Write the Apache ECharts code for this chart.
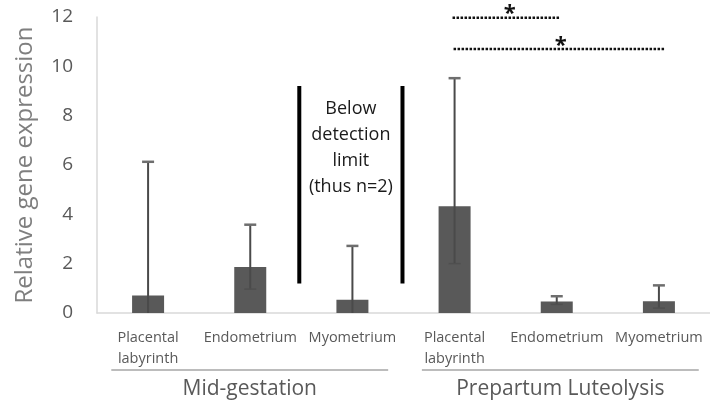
<!DOCTYPE html>
<html>
<head>
<meta charset="utf-8">
<script src="https://cdn.jsdelivr.net/npm/echarts@6/dist/echarts.min.js"></script>
<style>
  html, body { margin: 0; padding: 0; background: #fff; }
  #chart { width: 710px; height: 410px; }
</style>
</head>
<body>
<div id="chart"></div>
<script>
// tissues, in order: three mid-gestation then three prepartum
const categories = ['Placental\nlabyrinth', 'Endometrium', 'Myometrium',
                    'Placental\nlabyrinth', 'Endometrium', 'Myometrium'];
const means = [0.71, 1.86, 0.54, 4.33, 0.47, 0.48];
const errLow = [0, 0.97, 0, 2.0, 0.35, 0.2];
const errHigh = [6.13, 3.58, 2.72, 9.52, 0.68, 1.12];
const groups = ['Mid-gestation', 'Prepartum Luteolysis'];
const yTicks = [0, 12, 2]; // min, max, interval

const font = '"Open Sans", "Noto Sans", sans-serif';
const chart = echarts.init(document.getElementById('chart'));

const errData = means.map((m, i) => [i, errLow[i], errHigh[i]]);

chart.setOption({
    animation: false,
    textStyle: { fontFamily: font },
    grid: { left: 97, right: 0, top: 17, bottom: 97 },
    xAxis: {
        type: 'category',
        data: categories,
        axisLine: { lineStyle: { color: '#d9d9d9', width: 1.5 } },
        axisTick: { show: false },
        axisLabel: { color: '#595959', fontSize: 14.5, lineHeight: 21, margin: 14, interval: 0 }
    },
    yAxis: {
        type: 'value',
        min: yTicks[0],
        max: yTicks[1],
        interval: yTicks[2],
        name: 'Relative gene expression',
        nameLocation: 'middle',
        nameGap: 60,
        nameTextStyle: { color: '#7f7f7f', fontSize: 24 },
        axisLine: { show: true, lineStyle: { color: '#d9d9d9', width: 1.5 } },
        axisTick: { show: false },
        splitLine: { show: false },
        axisLabel: { color: '#595959', fontSize: 19, margin: 24 }
    },
    series: [
        {
            type: 'bar',
            data: means,
            barWidth: 32,
            itemStyle: { color: '#595959' }
        },
        {
            type: 'custom',
            data: errData,
            z: 3,
            renderItem: (params, api) => {
                const x = api.value(0);
                const lo = api.coord([x, api.value(1)]);
                const hi = api.coord([x, api.value(2)]);
                const style = { stroke: '#4a4a4a', lineWidth: 2 };
                const kids = [
                    { type: 'line', shape: { x1: lo[0], y1: lo[1], x2: hi[0], y2: hi[1] }, style },
                    { type: 'line', shape: { x1: hi[0] - 6, y1: hi[1], x2: hi[0] + 6, y2: hi[1] }, style: { stroke: '#6e6e6e', lineWidth: 2.5 } }
                ];
                if (api.value(1) > 0) {
                    kids.push({ type: 'line', shape: { x1: lo[0] - 6, y1: lo[1], x2: lo[0] + 6, y2: lo[1] }, style: { stroke: '#4f4f4f', lineWidth: 1.5 } });
                }
                return { type: 'group', children: kids };
            }
        }
    ]
});

// annotations placed from the axes' own scales
const c0 = chart.convertToPixel({ xAxisIndex: 0 }, 0);
const band = chart.convertToPixel({ xAxisIndex: 0 }, 1) - c0;
const px = f => c0 + f * band;
const py = v => chart.convertToPixel({ yAxisIndex: 0 }, v);
const base = py(0);

const dotted = { stroke: '#111', lineWidth: 2.5, lineDash: [2.5, 1.5] };
const star = { text: '*', fill: '#111', font: 'bold 22px ' + font, align: 'center', verticalAlign: 'middle' };

const graphic = [
    // vertical bars around the "below detection" note
    { type: 'line', shape: { x1: px(1.48), y1: py(9.2), x2: px(1.48), y2: py(1.2) }, style: { stroke: '#000', lineWidth: 4 } },
    { type: 'line', shape: { x1: px(2.49), y1: py(9.2), x2: px(2.49), y2: py(1.2) }, style: { stroke: '#000', lineWidth: 4 } },
    { type: 'text', x: px(1.985), y: py(6.69), style: {
        text: 'Below\ndetection\nlimit\n(thus n=2)', fill: '#1a1a1a', font: '18px ' + font,
        align: 'center', verticalAlign: 'middle', lineHeight: 26 } },
    // significance lines
    { type: 'line', shape: { x1: px(2.98), y1: py(11.97), x2: px(4.03), y2: py(11.97) }, style: dotted },
    { type: 'text', x: px(3.54), y: py(12.12), style: star },
    { type: 'line', shape: { x1: px(2.99), y1: py(10.7), x2: px(5.06), y2: py(10.7) }, style: dotted },
    { type: 'text', x: px(4.04), y: py(10.82), style: star }
];

// group brackets under the category labels
const spans = [[-0.36, 2.35], [2.68, 5.39]];
groups.forEach((g, i) => {
    const [a, b] = spans[i];
    graphic.push({ type: 'line', shape: { x1: px(a), y1: base + 57, x2: px(b), y2: base + 57 },
        style: { stroke: '#a6a6a6', lineWidth: 1.5 } });
    graphic.push({ type: 'text', x: (px(a) + px(b)) / 2, y: base + 76, style: {
        text: g, fill: '#595959', font: '21px ' + font, align: 'center', verticalAlign: 'middle' } });
});

chart.setOption({ graphic });
</script>
</body>
</html>
